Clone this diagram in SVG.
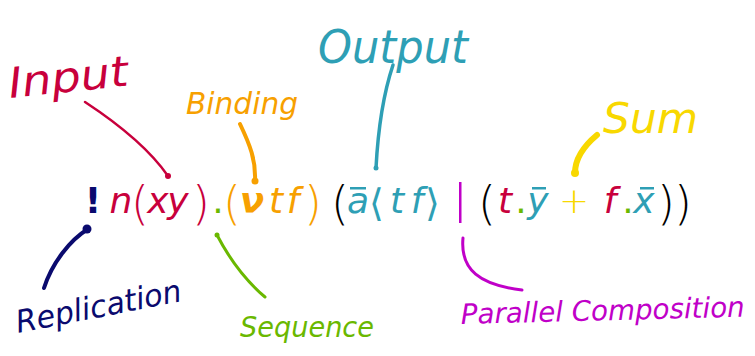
<svg xmlns="http://www.w3.org/2000/svg" width="755" height="356" viewBox="0 0 755 356">
<style>
.f{font-family:"DejaVu Sans","Noto Sans",sans-serif;font-size:36px;text-anchor:middle}
.p{font-size:46px;font-weight:300}
.a{font-size:38px;font-weight:300}
.i{font-style:italic}
.lbl{font-family:"DejaVu Sans","Noto Sans",sans-serif;font-style:italic}
.c{fill:none;stroke-linecap:round;stroke-linejoin:round}
.red{fill:#c8003c}.org{fill:#f7a000}.teal{fill:#2e9fb5}.yel{fill:#f8d800}.navy{fill:#0a0a6e}.grn{fill:#6ab800}.mag{fill:#c000c8}.blk{fill:#000}
</style>
<rect width="755" height="356" fill="#fff"/>
<g id="formula" class="f">
<text y="213"><tspan x="93" y="213" class="navy" font-weight="bold">!</tspan><tspan x="121" y="213" class="red i">n</tspan><tspan x="140" y="219" class="red p">(</tspan><tspan x="158" y="213" class="red i">x</tspan><tspan x="178" y="213" class="red i">y</tspan><tspan x="201" y="219" class="red p">)</tspan><tspan x="218" y="213" class="grn">.</tspan><tspan x="232" y="219" class="org p">(</tspan><tspan x="252" y="213" class="org i" font-weight="bold">ν</tspan><tspan x="276" y="213" class="org i">t</tspan><tspan x="293" y="213" class="org i">f</tspan><tspan x="313" y="219" class="org p">)</tspan><tspan x="340" y="219" class="blk p">(</tspan><tspan x="358" y="213" class="teal i">a</tspan><tspan x="376" y="216" class="teal a">⟨</tspan><tspan x="397" y="213" class="teal i">t</tspan><tspan x="417" y="213" class="teal i">f</tspan><tspan x="432" y="216" class="teal a">⟩</tspan><tspan x="487" y="219" class="blk p">(</tspan><tspan x="505" y="213" class="red i">t</tspan><tspan x="521" y="213" class="grn">.</tspan><tspan x="538" y="213" class="teal i">y</tspan><tspan x="574" y="213" class="yel" font-weight="300">+</tspan><tspan x="610" y="213" class="red i">f</tspan><tspan x="628" y="213" class="grn">.</tspan><tspan x="644" y="213" class="teal i">x</tspan><tspan x="666" y="219" class="blk p">)</tspan><tspan x="683" y="219" class="blk p">)</tspan></text>
<rect x="459" y="182" width="2.5" height="41" fill="#c000c8"/>
<rect x="350" y="187" width="16" height="2.5" fill="#2e9fb5"/>
<rect x="532" y="187" width="14" height="2.5" fill="#2e9fb5"/>
<rect x="640" y="187" width="14" height="2.5" fill="#2e9fb5"/>
</g>
<g id="connectors" class="c">
<path d="M85,102 C120,125 150,150 168,176" stroke="#c8003c" stroke-width="2.5"/>
<circle cx="168" cy="176" r="3" fill="#c8003c"/>
<path d="M240,124 C250,145 256,160 255,181" stroke="#f7a000" stroke-width="4"/>
<circle cx="255" cy="181" r="3.5" fill="#f7a000"/>
<path d="M393,65 C383,95 378,130 376,168" stroke="#2e9fb5" stroke-width="3.5"/>
<circle cx="376" cy="168" r="2.5" fill="#2e9fb5"/>
<path d="M597,135 C585,145 575,158 575,173" stroke="#f8d800" stroke-width="6"/>
<circle cx="575" cy="173" r="4" fill="#f8d800"/>
<path d="M88,229 C70,240 52,263 44,288" stroke="#0a0a6e" stroke-width="4"/>
<circle cx="87" cy="229" r="4.5" fill="#0a0a6e"/>
<path d="M217,235 C230,260 245,280 265,297" stroke="#6ab800" stroke-width="3"/>
<circle cx="217" cy="235" r="2.5" fill="#6ab800"/>
<path d="M463,238 C460,270 480,285 522,290" stroke="#c000c8" stroke-width="3"/>
</g>
<g id="input"><text class="lbl red" x="10" y="98" font-size="42" textLength="120" lengthAdjust="spacingAndGlyphs" transform="rotate(-6 10 98)">Input</text></g>
<g id="binding"><text class="lbl org" x="186" y="114" font-size="31" textLength="112" lengthAdjust="spacingAndGlyphs">Binding</text></g>
<g id="output"><text class="lbl teal" x="318" y="63" font-size="46" textLength="150" lengthAdjust="spacingAndGlyphs">Output</text></g>
<g id="sum"><text class="lbl yel" x="603" y="133" font-size="43" textLength="95" lengthAdjust="spacingAndGlyphs">Sum</text></g>
<g id="replication"><text class="lbl navy" x="18" y="333" font-size="31" textLength="168" lengthAdjust="spacingAndGlyphs" transform="rotate(-11 18 333)">Replication</text></g>
<g id="sequence"><text class="lbl grn" x="240" y="337" font-size="29" textLength="134" lengthAdjust="spacingAndGlyphs">Sequence</text></g>
<g id="parallel"><text class="lbl mag" x="461" y="324" font-size="28" textLength="284" lengthAdjust="spacingAndGlyphs" transform="rotate(-1.5 461 324)">Parallel Composition</text></g>
</svg>
